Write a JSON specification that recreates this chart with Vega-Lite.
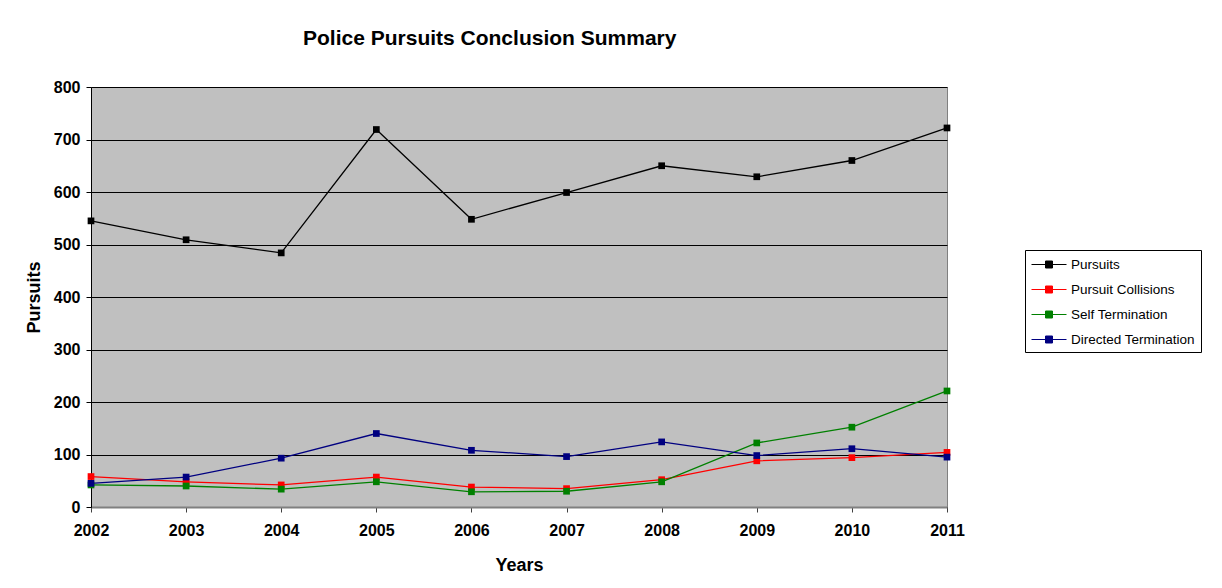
{
  "$schema": "https://vega.github.io/schema/vega-lite/v6.json",
  "autosize": {"type": "none"},
  "width": 856,
  "height": 420,
  "padding": {"left": 91, "top": 87, "right": 275, "bottom": 81},
  "background": "white",
  "title": {
    "text": "Police Pursuits Conclusion Summary",
    "font": "Liberation Sans",
    "fontSize": 21,
    "fontWeight": "bold",
    "color": "black",
    "anchor": "start",
    "frame": "group",
    "dx": 212,
    "baseline": "alphabetic",
    "offset": 13
  },
  "data": {
    "values": [
      {"year": "2002", "series": "Pursuits", "value": 545},
      {"year": "2003", "series": "Pursuits", "value": 509},
      {"year": "2004", "series": "Pursuits", "value": 484},
      {"year": "2005", "series": "Pursuits", "value": 719},
      {"year": "2006", "series": "Pursuits", "value": 548},
      {"year": "2007", "series": "Pursuits", "value": 599},
      {"year": "2008", "series": "Pursuits", "value": 650},
      {"year": "2009", "series": "Pursuits", "value": 629},
      {"year": "2010", "series": "Pursuits", "value": 660},
      {"year": "2011", "series": "Pursuits", "value": 722},
      {"year": "2002", "series": "Pursuit Collisions", "value": 58},
      {"year": "2003", "series": "Pursuit Collisions", "value": 48},
      {"year": "2004", "series": "Pursuit Collisions", "value": 42},
      {"year": "2005", "series": "Pursuit Collisions", "value": 57},
      {"year": "2006", "series": "Pursuit Collisions", "value": 38},
      {"year": "2007", "series": "Pursuit Collisions", "value": 35},
      {"year": "2008", "series": "Pursuit Collisions", "value": 52},
      {"year": "2009", "series": "Pursuit Collisions", "value": 88},
      {"year": "2010", "series": "Pursuit Collisions", "value": 94},
      {"year": "2011", "series": "Pursuit Collisions", "value": 104},
      {"year": "2002", "series": "Self Termination", "value": 42},
      {"year": "2003", "series": "Self Termination", "value": 40},
      {"year": "2004", "series": "Self Termination", "value": 34},
      {"year": "2005", "series": "Self Termination", "value": 48},
      {"year": "2006", "series": "Self Termination", "value": 29},
      {"year": "2007", "series": "Self Termination", "value": 30},
      {"year": "2008", "series": "Self Termination", "value": 48},
      {"year": "2009", "series": "Self Termination", "value": 122},
      {"year": "2010", "series": "Self Termination", "value": 152},
      {"year": "2011", "series": "Self Termination", "value": 221},
      {"year": "2002", "series": "Directed Termination", "value": 45},
      {"year": "2003", "series": "Directed Termination", "value": 57},
      {"year": "2004", "series": "Directed Termination", "value": 93},
      {"year": "2005", "series": "Directed Termination", "value": 140},
      {"year": "2006", "series": "Directed Termination", "value": 108},
      {"year": "2007", "series": "Directed Termination", "value": 96},
      {"year": "2008", "series": "Directed Termination", "value": 124},
      {"year": "2009", "series": "Directed Termination", "value": 98},
      {"year": "2010", "series": "Directed Termination", "value": 111},
      {"year": "2011", "series": "Directed Termination", "value": 95}
    ]
  },
  "mark": {
    "type": "line",
    "strokeWidth": 1.3,
    "point": {"shape": "square", "filled": true, "size": 45, "opacity": 1}
  },
  "encoding": {
    "x": {
      "field": "year",
      "type": "ordinal",
      "scale": {"type": "point", "padding": 0},
      "axis": {
        "title": "Years",
        "labelAngle": 0,
        "labelFont": "Liberation Sans",
        "labelFontSize": 16,
        "labelFontWeight": "bold",
        "labelColor": "black",
        "labelPadding": 10,
        "tickSize": 5,
        "tickColor": "#404040",
        "domainColor": "#808080",
        "domainWidth": 2,
        "grid": false,
        "titleFont": "Liberation Sans",
        "titleFontSize": 18,
        "titleFontWeight": "bold",
        "titleColor": "black",
        "titleY": 58,
        "titleBaseline": "middle"
      }
    },
    "y": {
      "field": "value",
      "type": "quantitative",
      "scale": {"domain": [0, 800], "nice": false},
      "axis": {
        "title": "Pursuits",
        "values": [0, 100, 200, 300, 400, 500, 600, 700, 800],
        "labelFont": "Liberation Sans",
        "labelFontSize": 16,
        "labelFontWeight": "bold",
        "labelColor": "black",
        "labelPadding": 6,
        "tickSize": 5,
        "tickColor": "black",
        "domainColor": "black",
        "gridColor": "black",
        "gridOpacity": 1,
        "gridWidth": 1,
        "titleFont": "Liberation Sans",
        "titleFontSize": 18,
        "titleFontWeight": "bold",
        "titleColor": "black",
        "titleX": -57,
        "titleY": 210,
        "titleAlign": "center",
        "titleBaseline": "middle"
      }
    },
    "color": {
      "field": "series",
      "type": "nominal",
      "scale": {
        "domain": ["Pursuits", "Pursuit Collisions", "Self Termination", "Directed Termination"],
        "range": ["#000000", "#FF0000", "#008000", "#000080"]
      },
      "legend": {
        "title": null,
        "orient": "none",
        "legendX": 934,
        "legendY": 163,
        "strokeColor": "black",
        "fillColor": "white",
        "padding": 6,
        "symbolType": "M-1,0H3.375M0.75,-0.4375H1.625V0.4375H0.75Z",
        "symbolSize": 256,
        "symbolStrokeWidth": 1,
        "labelFont": "Liberation Sans",
        "labelFontSize": 13.5,
        "labelColor": "black",
        "labelOffset": 23,
        "rowPadding": 10,
        "encode": {
          "symbols": {
            "update": {
              "fill": {"scale": "color", "field": "value"},
              "stroke": {"scale": "color", "field": "value"},
              "fillOpacity": {"value": 1},
              "opacity": {"value": 1}
            }
          }
        }
      }
    }
  },
  "config": {
    "view": {"fill": "#C0C0C0", "stroke": "#808080", "strokeWidth": 1}
  }
}
